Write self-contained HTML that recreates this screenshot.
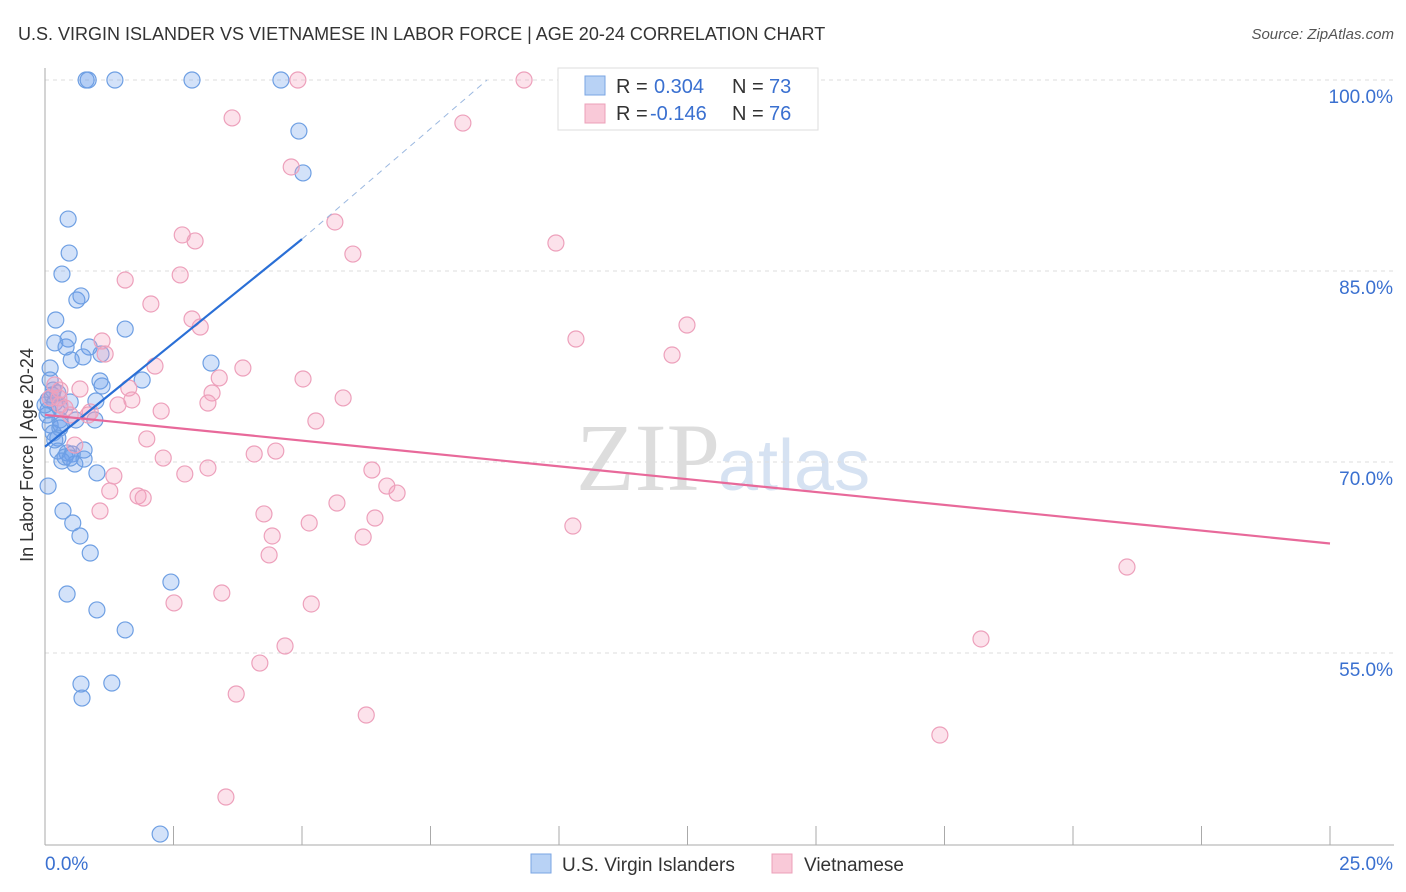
<!DOCTYPE html>
<html><head><meta charset="utf-8"><style>
body{margin:0;background:#fff;font-family:"Liberation Sans",sans-serif}
svg{display:block}
</style></head><body>
<svg id="c" width="1406" height="892">
<text x="18" y="40" font-size="18" fill="#333">U.S. VIRGIN ISLANDER VS VIETNAMESE IN LABOR FORCE | AGE 20-24 CORRELATION CHART</text>
<text x="1394" y="39" font-size="15" fill="#555" font-style="italic" text-anchor="end">Source: ZipAtlas.com</text>
<text x="720" y="490" font-size="96" fill="#ddd" text-anchor="end" font-family="Liberation Serif">ZIP</text>
<text x="718" y="490" font-size="72" fill="#d6e2f2">atlas</text>
<text transform="translate(33,455) rotate(-90)" font-size="18" fill="#333" text-anchor="middle">In Labor Force | Age 20-24</text>
<g id="grid"></g><g id="pts"></g><g id="trend"></g>
<g>
<rect x="558" y="68" width="260" height="62" fill="#fff" stroke="#ddd"/>
<rect x="585" y="76" width="20" height="19" fill="#b8d2f5" stroke="#7aa5e3"/>
<rect x="585" y="104" width="20" height="19" fill="#f9c9d8" stroke="#eca0b9"/>
<text x="616" y="93" font-size="20" fill="#333">R =</text>
<text x="654" y="93" font-size="20" fill="#3a70d0">0.304</text>
<text x="732" y="93" font-size="20" fill="#333">N =</text>
<text x="769" y="93" font-size="20" fill="#3a70d0">73</text>
<text x="616" y="120" font-size="20" fill="#333">R =</text>
<text x="650" y="120" font-size="20" fill="#3a70d0">-0.146</text>
<text x="732" y="120" font-size="20" fill="#333">N =</text>
<text x="769" y="120" font-size="20" fill="#3a70d0">76</text>
</g>
<g>
<rect x="531" y="854" width="20" height="19" fill="#b8d2f5" stroke="#7aa5e3"/>
<text x="562" y="871" font-size="19" fill="#333">U.S. Virgin Islanders</text>
<rect x="772" y="854" width="20" height="19" fill="#f9c9d8" stroke="#eca0b9"/>
<text x="804" y="871" font-size="19" fill="#333">Vietnamese</text>
</g>
</svg>
<script>
const xTicks=[0,2.5,5,7.5,10,12.5,15,17.5,20,22.5,25];
const yTicks=[55,70,85,100];
const yTickLabels=["55.0%","70.0%","85.0%","100.0%"];
const bluePx=[[86,80],[88,80],[115,80],[192,80],[281,80],[299,131],[303,173],[68,219],[69,253],[62,274],[77,300],[81,296],[56,320],[125,329],[55,343],[68,339],[66,347],[89,347],[101,354],[83,357],[71,360],[211,363],[50,368],[50,380],[100,381],[102,386],[142,380],[53,390],[58,393],[48,400],[96,401],[55,403],[70,402],[48,410],[60,408],[95,420],[76,420],[50,425],[60,428],[53,433],[58,438],[84,450],[67,453],[58,451],[72,454],[84,459],[62,461],[75,464],[97,473],[48,486],[63,511],[73,523],[80,536],[90,553],[67,594],[97,610],[125,630],[171,582],[81,684],[112,683],[82,698],[160,834],[55,440],[47,415],[60,420],[65,457],[70,458],[52,395],[45,405],[61,425]];
const pinkPx=[[298,80],[524,80],[232,118],[463,123],[291,167],[335,222],[182,235],[195,241],[556,243],[353,254],[180,275],[125,280],[151,304],[192,319],[200,327],[687,325],[576,339],[102,341],[672,355],[105,354],[155,366],[243,368],[219,378],[303,379],[129,388],[212,393],[80,389],[60,390],[59,398],[343,398],[208,403],[118,405],[132,400],[60,405],[161,411],[90,412],[70,415],[316,421],[147,439],[75,445],[276,451],[254,454],[163,458],[208,468],[185,474],[372,470],[114,476],[387,486],[397,493],[110,491],[138,496],[143,498],[337,503],[100,511],[264,514],[375,518],[309,523],[573,526],[272,536],[363,537],[269,555],[1127,567],[174,603],[222,593],[311,604],[981,639],[285,646],[260,663],[236,694],[366,715],[940,735],[226,797],[50,398],[55,385],[65,408],[88,415]];
const blueX=bluePx.map(p=>+((p[0]-45)/1285*25).toFixed(2));
const blueY=bluePx.map(p=>+(100-(p[1]-80)/12.733).toFixed(2));
const pinkX=pinkPx.map(p=>+((p[0]-45)/1285*25).toFixed(2));
const pinkY=pinkPx.map(p=>+(100-(p[1]-80)/12.733).toFixed(2));
const blueTrend=[[0,71.2],[5,87.5]];
const blueDash=[[5,87.5],[8.6,100]];
const pinkTrend=[[0,73.7],[25,63.6]];
const X=v=>45+v/25*1285, Y=v=>80+(100-v)*12.733;
const NS="http://www.w3.org/2000/svg";
function mk(t,a,p){const e=document.createElementNS(NS,t);for(const k in a)e.setAttribute(k,a[k]);p.appendChild(e);return e;}
const g=document.getElementById('grid');
yTicks.forEach((t,i)=>{
 const l=mk('line',{x1:45,x2:1394,y1:Y(t),y2:Y(t),stroke:'#ddd','stroke-dasharray':'4,4'},g);
 
 
 const tx=mk('text',{x:1393,y:Y(t)+23,'font-size':19,fill:'#3a70d0','text-anchor':'end'},g);
 tx.textContent=yTickLabels[i];
 
 
});
const ax=mk('line',{x1:45,x2:45,y1:68,y2:845,stroke:'#aaa'},g);


const bx=mk('line',{x1:45,x2:1394,y1:845,y2:845,stroke:'#aaa'},g);


xTicks.forEach(t=>{
 const l=mk('line',{x1:X(t),x2:X(t),y1:826,y2:845,stroke:'#aaa'},g);
 
 
});
[[0,"0.0%","start"],[25,"25.0%","end"]].forEach(d=>{
 const tx=mk('text',{x:X(d[0])+(d[0]?63:0),y:870,'font-size':19,fill:'#3a70d0','text-anchor':d[2]},g);
 tx.textContent=d[1];
 
 
});
const P=document.getElementById('pts');
blueX.forEach((x,i)=>{
 const c=mk('circle',{cx:X(x),cy:Y(blueY[i]),r:8,fill:'rgba(110,160,235,0.3)',stroke:'#6e9fe3','stroke-width':1.2},P);
 
 
});
pinkX.forEach((x,i)=>{
 const c=mk('circle',{cx:X(x),cy:Y(pinkY[i]),r:8,fill:'rgba(245,160,190,0.3)',stroke:'#eda0bb','stroke-width':1.2},P);
 
 
});
const T=document.getElementById('trend');
const l1=mk('line',{x1:X(blueTrend[0][0]),y1:Y(blueTrend[0][1]),x2:X(blueTrend[1][0]),y2:Y(blueTrend[1][1]),stroke:'#2a6fd6','stroke-width':2.2},T);


const l2=mk('line',{x1:X(blueDash[0][0]),y1:Y(blueDash[0][1]),x2:X(blueDash[1][0]),y2:Y(blueDash[1][1]),stroke:'#9bb8e0','stroke-width':1,'stroke-dasharray':'6,5'},T);


const l3=mk('line',{x1:X(pinkTrend[0][0]),y1:Y(pinkTrend[0][1]),x2:X(pinkTrend[1][0]),y2:Y(pinkTrend[1][1]),stroke:'#e8699a','stroke-width':2.2},T);


</script>
</body></html>
